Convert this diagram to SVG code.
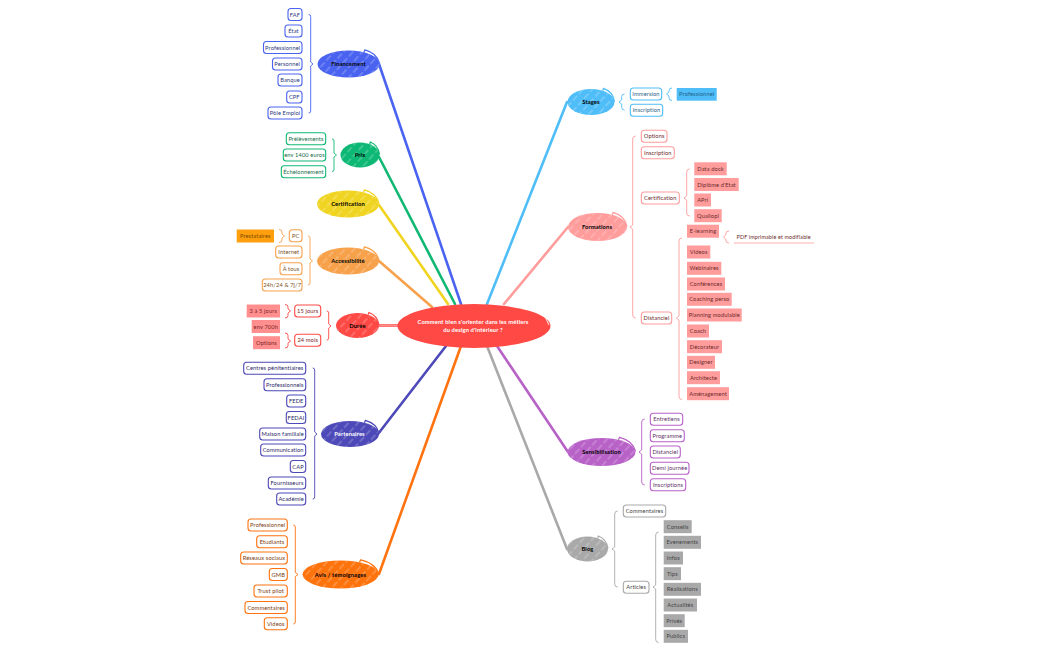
<svg xmlns="http://www.w3.org/2000/svg" width="1050" height="651" viewBox="0 0 1050 651">
<style>
text{font-family:"Lato","Liberation Sans",sans-serif;font-size:5.7px;letter-spacing:.12px;text-anchor:middle}
.fin{color:#4a63f0}.pri{color:#10b874}.cer{color:#f0d420}.acc{color:#f7a14c}.dur{color:#ff4a45}.par{color:#4d49b8}.avi{color:#ff7310}.sta{color:#4fbdf8}.frm{color:#ff9c9c}.sen{color:#b862c8}.blo{color:#a9a9a9}
.fin text{fill:#2b3a80}.pri text{fill:#0f6b47}.acc text{fill:#7a4f22}.dur text{fill:#7a2422}.par text{fill:#2b2966}.avi text{fill:#7a3c10}.sta text{fill:#1f6385}.frm text{fill:#6b2a2a}.sen text{fill:#5e2f66}.blo text{fill:#444}
.box{fill:#fff;stroke:currentColor;stroke-width:1.1}
.fil{fill:currentColor;filter:url(#rough)}
.el{fill:currentColor;filter:url(#rough)}
.ha{fill:url(#hatch)}
.fl{fill:none;stroke:currentColor;stroke-width:1.3}
.mn text{fill:#000;font-weight:700;font-size:5.8px}
.par.mn text{fill:#fff}
.cen text{font-weight:700;font-size:5.8px;fill:#fff}
.br{fill:none;stroke:currentColor;stroke-width:.9;stroke-linejoin:round}
.ln{fill:none;stroke:currentColor;stroke-width:2.6;stroke-linecap:round}
</style>
<defs>
<pattern id="hatch" patternUnits="userSpaceOnUse" width="7" height="9" patternTransform="rotate(42)">
<line x1="3" y1="0" x2="3" y2="6.5" stroke="#fff" stroke-width=".7" stroke-opacity=".55"/>
</pattern>
<filter id="rough" x="-5%" y="-10%" width="110%" height="120%">
<feTurbulence type="fractalNoise" baseFrequency=".7" numOctaves="1" seed="3"/>
<feDisplacementMap in="SourceGraphic" scale="1.3"/>
</filter>
<path id="flick" d="M.5 -.87 L.53 -1.04 Q.92 -.8 1 -.05" vector-effect="non-scaling-stroke"/>
</defs>
<g id="connectors">
<path class="ln fin" d="M379 64L461 304"/>
<path class="ln pri" d="M379 157L455 304"/>
<path class="ln cer" d="M379 205L448 304"/>
<path class="ln acc" d="M379 261L432 307"/>
<path class="ln dur" d="M379 325.5H398"/><path d="M379 325.5H398" stroke="#ffaaa6" stroke-width=".7" fill="none"/>
<path class="ln par" d="M378 434L446 346"/>
<path class="ln avi" d="M379 574L461 346"/>
<path class="ln sta" d="M567 102L487 304"/>
<path class="ln frm" d="M568 227L504 304"/>
<path class="ln sen" d="M568 452L497 346"/>
<path class="ln blo" d="M567 549L487 346"/>
<path class="br fin" d="M308.7 14.5Q310.7 14.5 310.7 16.5V62L313 64L310.7 66V111Q310.7 113 308.7 113"/>
<path class="br pri" d="M332 139Q334 139 334 141V153L336.5 155L334 157V169.5Q334 171.5 332 171.5"/>
<path class="br acc" d="M308 236Q310 236 310 238V259L312.5 261L310 263V283Q310 285 308 285"/>
<path class="br acc" d="M279 229.5Q282 229.5 282 232V234L284.5 236L282 238V240Q282 242.5 279 242.5"/>
<path class="br dur" d="M326.7 311Q328.7 311 328.7 313V324L331 326L328.7 328V338Q328.7 340 326.7 340"/>
<path class="br dur" d="M285 304.5Q288 304.5 288 307V309L290.5 311L288 313V315.5Q288 318 285 318"/>
<path class="br dur" d="M285 333Q288 333 288 335.5V339L290.5 341L288 343V345.5Q288 348 285 348"/>
<path class="br par" d="M312.7 368Q314.7 368 314.7 370V432L317 434L314.7 436V497Q314.7 499 312.7 499"/>
<path class="br avi" d="M293.3 525Q295.3 525 295.3 527V572.5L298 574.5L295.3 576.5V622Q295.3 624 293.3 624"/>
<path class="br sta" d="M624.5 94Q621.7 94 621.7 96.5V100L619 102L621.7 104V107.5Q621.7 110 624.5 110"/>
<path class="br sta" d="M672 88Q669 88 669 90.5V92L666.5 94L669 96V98Q669 100.5 672 100.5"/>
<path class="br frm" d="M635.7 136Q632.7 136 632.7 139V225L630 227L632.7 229V315Q632.7 318 635.7 318"/>
<path class="br frm" d="M689.7 169Q686.7 169 686.7 172V196L684 198L686.7 200V213Q686.7 216 689.7 216"/>
<path class="br frm" d="M729 231Q725.7 231 725.7 234V235L723.5 237L725.7 239V240Q725.7 243 729 243"/>
<path class="br frm" d="M682 238Q679 238 679 241V316L676.5 318L679 320V396.5Q679 399.5 682 399.5"/>
<path class="br sen" d="M644.7 419Q641.7 419 641.7 422V450L639 452L641.7 454V482Q641.7 485 644.7 485"/>
<path class="br blo" d="M617.7 511Q614.7 511 614.7 514V547L612 549L614.7 551V584Q614.7 587 617.7 587"/>
<path class="br blo" d="M658.7 532Q655.7 532 655.7 535V585L653 587L655.7 589V639.5Q655.7 642.5 658.7 642.5"/>
<path d="M734 243H814" stroke="#ffb0b0" stroke-width="1" fill="none"/>
</g>
<g id="center" class="dur cen"><ellipse class="el" cx="474" cy="326" rx="76.5" ry="22"/><path d="M519 305.5L520 304Q545 310 549 325" fill="none" stroke="#fff" stroke-width=".9"/><text x="473" y="324.3">Comment bien s'orienter dans les métiers</text><text x="473" y="331.5">du design d'intérieur ?</text></g>
<g id="financement" class="fin mn"><ellipse class="el" cx="348.5" cy="64" rx="31" ry="13.5"/><ellipse class="ha" cx="348.5" cy="64" rx="31" ry="13.5"/><use href="#flick" class="fl" transform="translate(348.5 64) scale(31 13.5)"/><text x="348.5" y="66">Financement</text></g>
<g id="prix" class="pri mn"><ellipse class="el" cx="360" cy="155" rx="19.5" ry="12.5"/><ellipse class="ha" cx="360" cy="155" rx="19.5" ry="12.5"/><use href="#flick" class="fl" transform="translate(360 155) scale(19.5 12.5)"/><text x="360" y="157">Prix</text></g>
<g id="certification" class="cer mn"><ellipse class="el" cx="348" cy="204" rx="31" ry="13.5"/><ellipse class="ha" cx="348" cy="204" rx="31" ry="13.5"/><use href="#flick" class="fl" transform="translate(348 204) scale(31 13.5)"/><text x="348" y="206">Certification</text></g>
<g id="accessibilite" class="acc mn"><ellipse class="el" cx="348" cy="261" rx="31" ry="13.5"/><ellipse class="ha" cx="348" cy="261" rx="31" ry="13.5"/><use href="#flick" class="fl" transform="translate(348 261) scale(31 13.5)"/><text x="348" y="263">Accessibilité</text></g>
<g id="duree" class="dur mn"><ellipse class="el" cx="357.5" cy="325.5" rx="21.5" ry="12.5"/><ellipse class="ha" cx="357.5" cy="325.5" rx="21.5" ry="12.5"/><use href="#flick" class="fl" transform="translate(357.5 325.5) scale(21.5 12.5)"/><text x="357.5" y="327.5">Durée</text></g>
<g id="partenaires" class="par mn"><ellipse class="el" cx="350" cy="434" rx="29" ry="13"/><ellipse class="ha" cx="350" cy="434" rx="29" ry="13"/><use href="#flick" class="fl" transform="translate(350 434) scale(29 13)"/><text x="349.5" y="436">Partenaires</text></g>
<g id="avis" class="avi mn"><ellipse class="el" cx="340.5" cy="574.5" rx="38" ry="14"/><ellipse class="ha" cx="340.5" cy="574.5" rx="38" ry="14"/><use href="#flick" class="fl" transform="translate(340.5 574.5) scale(38 14)"/><text x="340.5" y="576.5">Avis / témoignages</text></g>
<g id="stages" class="sta mn"><ellipse class="el" cx="591" cy="102" rx="23.5" ry="13"/><ellipse class="ha" cx="591" cy="102" rx="23.5" ry="13"/><use href="#flick" class="fl" transform="translate(591 102) scale(23.5 13)"/><text x="591" y="104">Stages</text></g>
<g id="formations" class="frm mn"><ellipse class="el" cx="597.5" cy="227" rx="29.5" ry="14"/><ellipse class="ha" cx="597.5" cy="227" rx="29.5" ry="14"/><use href="#flick" class="fl" transform="translate(597.5 227) scale(29.5 14)"/><text x="597" y="229">Formations</text></g>
<g id="sensibilisation" class="sen mn"><ellipse class="el" cx="601.5" cy="452" rx="34" ry="14"/><ellipse class="ha" cx="601.5" cy="452" rx="34" ry="14"/><use href="#flick" class="fl" transform="translate(601.5 452) scale(34 14)"/><text x="601.5" y="454">Sensibilisation</text></g>
<g id="blog" class="blo mn"><ellipse class="el" cx="587.5" cy="549" rx="20.5" ry="12.5"/><ellipse class="ha" cx="587.5" cy="549" rx="20.5" ry="12.5"/><use href="#flick" class="fl" transform="translate(587.5 549) scale(20.5 12.5)"/><text x="587.5" y="551">Blog</text></g>

<g id="f1" class="fin"><rect class="box" x="288" y="8.5" width="14" height="12" rx="3"/><text x="295" y="16.5">FAF</text></g>
<g id="f2" class="fin"><rect class="box" x="285" y="25" width="17" height="12" rx="3"/><text x="293.5" y="33">État</text></g>
<g id="f3" class="fin"><rect class="box" x="263.5" y="41.5" width="38.5" height="12" rx="3"/><text x="282.7" y="49.5">Professionnel</text></g>
<g id="f4" class="fin"><rect class="box" x="272.5" y="58" width="29.5" height="12" rx="3"/><text x="287.2" y="66">Personnel</text></g>
<g id="f5" class="fin"><rect class="box" x="278" y="74" width="24" height="12" rx="3"/><text x="290" y="82">Banque</text></g>
<g id="f6" class="fin"><rect class="box" x="286.7" y="91" width="15.3" height="12" rx="3"/><text x="294.3" y="99">CPF</text></g>
<g id="f7" class="fin"><rect class="box" x="268" y="107" width="34" height="12" rx="3"/><text x="285" y="115">Pôle Emploi</text></g>

<g id="p1" class="pri"><rect class="box" x="286.3" y="132.7" width="39.4" height="12" rx="3"/><text x="306" y="140.7">Prélèvements</text></g>
<g id="p2" class="pri"><rect class="box" x="283.3" y="149" width="42.4" height="12" rx="3"/><text x="304.5" y="157">env 1400 euros</text></g>
<g id="p3" class="pri"><rect class="box" x="281.3" y="165.7" width="44.4" height="12" rx="3"/><text x="303.5" y="173.7">Échelonnement</text></g>

<g id="a1" class="acc"><rect class="box" x="289.3" y="229.7" width="12.7" height="12" rx="3"/><text x="295.7" y="237.7">PC</text></g>
<g id="a2" class="acc"><rect class="box" x="275.7" y="246" width="26.3" height="12" rx="3"/><text x="288.8" y="254">Internet</text></g>
<g id="a3" class="acc"><rect class="box" x="280" y="262.7" width="22" height="12" rx="3"/><text x="291" y="270.7">À tous</text></g>
<g id="a4" class="acc"><rect class="box" x="262.3" y="279" width="39.7" height="12" rx="3"/><text x="282.2" y="287">24h/24 &amp; 7j/7</text></g>
<g id="a5" style="color:#ff9f0f"><rect class="fil" x="236.7" y="229.5" width="37.3" height="13"/><text x="255.3" y="238" fill="#7a4a00">Prestataires</text></g>

<g id="d1" class="dur"><rect class="box" x="294.7" y="305" width="26" height="12" rx="3"/><text x="307.7" y="313">15 jours</text></g>
<g id="d2" class="dur"><rect class="box" x="294.7" y="334.3" width="26" height="12" rx="3"/><text x="307.7" y="342.3">24 mois</text></g>
<g id="d3" class="dur" style="color:#ff8f8f"><rect class="fil" x="246.7" y="304.5" width="33.3" height="13"/><text x="263.3" y="313">3 à 5 jours</text></g>
<g id="d4" class="dur" style="color:#ff8f8f"><rect class="fil" x="251.7" y="320" width="28.3" height="13"/><text x="265.8" y="328.5">env 700h</text></g>
<g id="d5" class="dur" style="color:#ff8f8f"><rect class="fil" x="253" y="336.2" width="27" height="13"/><text x="266.5" y="344.7">Options</text></g>

<g id="t1" class="par"><rect class="box" x="243.7" y="362.3" width="62" height="12" rx="3"/><text x="274.7" y="370.3">Centres pénitentiaires</text></g>
<g id="t2" class="par"><rect class="box" x="264" y="378.7" width="41.7" height="12" rx="3"/><text x="284.8" y="386.7">Professionnels</text></g>
<g id="t3" class="par"><rect class="box" x="286.7" y="395" width="19" height="12" rx="3"/><text x="296.2" y="403">FEDE</text></g>
<g id="t4" class="par"><rect class="box" x="286.3" y="411.5" width="19.4" height="12" rx="3"/><text x="296" y="419.5">FEDAI</text></g>
<g id="t5" class="par"><rect class="box" x="259.7" y="428" width="46" height="12" rx="3"/><text x="282.7" y="436">Maison familiale</text></g>
<g id="t6" class="par"><rect class="box" x="260.7" y="444" width="45" height="12" rx="3"/><text x="283.2" y="452">Communication</text></g>
<g id="t7" class="par"><rect class="box" x="290.3" y="460.5" width="15.4" height="12" rx="3"/><text x="298" y="468.5">CAP</text></g>
<g id="t8" class="par"><rect class="box" x="268.3" y="477" width="37.4" height="12" rx="3"/><text x="287" y="485">Fournisseurs</text></g>
<g id="t9" class="par"><rect class="box" x="276.7" y="493" width="29" height="12" rx="3"/><text x="291.2" y="501">Académie</text></g>

<g id="v1" class="avi"><rect class="box" x="248" y="519" width="39.3" height="12" rx="3"/><text x="267.7" y="527">Professionnel</text></g>
<g id="v2" class="avi"><rect class="box" x="256.7" y="535.7" width="30.6" height="12" rx="3"/><text x="272" y="543.7">Etudiants</text></g>
<g id="v3" class="avi"><rect class="box" x="240.7" y="552" width="46.6" height="12" rx="3"/><text x="264" y="560">Réseaux sociaux</text></g>
<g id="v4" class="avi"><rect class="box" x="269.3" y="568.5" width="18" height="12" rx="3"/><text x="278.3" y="576.5">GMB</text></g>
<g id="v5" class="avi"><rect class="box" x="254" y="585" width="33.3" height="12" rx="3"/><text x="270.7" y="593">Trust pilot</text></g>
<g id="v6" class="avi"><rect class="box" x="245" y="601.5" width="42.3" height="12" rx="3"/><text x="266.2" y="609.5">Commentaires</text></g>
<g id="v7" class="avi"><rect class="box" x="264.3" y="617.7" width="23" height="12" rx="3"/><text x="275.8" y="625.7">Videos</text></g>

<g id="s1" class="sta"><rect class="box" x="630.3" y="88" width="31.4" height="12" rx="3"/><text x="646" y="96">Immersion</text></g>
<g id="s2" class="sta"><rect class="box" x="630.3" y="104.3" width="32.4" height="12" rx="3"/><text x="646.5" y="112.3">Inscription</text></g>
<g id="s3" class="sta"><rect class="fil" x="676.7" y="88" width="40" height="12.7"/><text x="696.7" y="96.3">Professionnel</text></g>

<g id="o1" class="frm"><rect class="box" x="641.3" y="130.3" width="25.7" height="12" rx="3"/><text x="654.2" y="138.3">Options</text></g>
<g id="o2" class="frm"><rect class="box" x="641.3" y="146.7" width="33" height="12" rx="3"/><text x="657.8" y="154.7">Inscription</text></g>
<g id="o3" class="frm"><rect class="box" x="641.3" y="192" width="38" height="12" rx="3"/><text x="660.3" y="200">Certification</text></g>
<g id="o4" class="frm"><rect class="box" x="641.3" y="312" width="30.4" height="12" rx="3"/><text x="656.5" y="320">Distanciel</text></g>
<g id="c1" class="frm"><rect class="fil" x="694.3" y="162.3" width="32.4" height="13"/><text x="710.5" y="170.8">Data dock</text></g>
<g id="c2" class="frm"><rect class="fil" x="694.3" y="178" width="44.4" height="13"/><text x="716.5" y="186.5">Diplôme d'Etat</text></g>
<g id="c3" class="frm"><rect class="fil" x="694.3" y="193.5" width="16.7" height="13"/><text x="702.7" y="202">APri</text></g>
<g id="c4" class="frm"><rect class="fil" x="694.3" y="209.2" width="27.4" height="13"/><text x="708" y="217.7">Qualiopi</text></g>
<g id="e1" class="frm"><rect class="fil" x="687" y="224.7" width="32" height="13"/><text x="703" y="233.2">E-learning</text></g>
<g id="e2" class="frm"><text x="773.6" y="239" style="font-size:5.45px">PDF imprimable et modifiable</text></g>
<g id="g1" class="frm"><rect class="fil" x="687" y="245.5" width="23.3" height="13"/><text x="698.6" y="254">Videos</text></g>
<g id="g2" class="frm"><rect class="fil" x="687" y="261.8" width="34.3" height="13"/><text x="704.1" y="270.3">Webinaires</text></g>
<g id="g3" class="frm"><rect class="fil" x="687" y="277.5" width="38" height="13"/><text x="706" y="286">Conférences</text></g>
<g id="g4" class="frm"><rect class="fil" x="687" y="292.8" width="44.7" height="13"/><text x="709.3" y="301.3">Coaching perso</text></g>
<g id="g5" class="frm"><rect class="fil" x="687" y="308.5" width="54.7" height="13"/><text x="714.3" y="317">Planning modulable</text></g>
<g id="g6" class="frm"><rect class="fil" x="687" y="324.5" width="22" height="13"/><text x="698" y="333">Coach</text></g>
<g id="g7" class="frm"><rect class="fil" x="687" y="340.2" width="35" height="13"/><text x="704.5" y="348.7">Décorateur</text></g>
<g id="g8" class="frm"><rect class="fil" x="687" y="355.8" width="28" height="13"/><text x="701" y="364.3">Designer</text></g>
<g id="g9" class="frm"><rect class="fil" x="687" y="371.2" width="33" height="13"/><text x="703.5" y="379.7">Architecte</text></g>
<g id="g10" class="frm"><rect class="fil" x="687" y="387.2" width="42" height="13"/><text x="708" y="395.7">Aménagement</text></g>

<g id="n1" class="sen"><rect class="box" x="650.3" y="413.3" width="32.4" height="12" rx="3"/><text x="666.5" y="421.3">Entretiens</text></g>
<g id="n2" class="sen"><rect class="box" x="650.3" y="429.7" width="34" height="12" rx="3"/><text x="667.3" y="437.7">Programme</text></g>
<g id="n3" class="sen"><rect class="box" x="650.3" y="446" width="30" height="12" rx="3"/><text x="665.3" y="454">Distanciel</text></g>
<g id="n4" class="sen"><rect class="box" x="650.3" y="462.3" width="38.7" height="12" rx="3"/><text x="669.7" y="470.3">Demi journée</text></g>
<g id="n5" class="sen"><rect class="box" x="650.3" y="478.7" width="35.4" height="12" rx="3"/><text x="668" y="486.7">Inscriptions</text></g>

<g id="b1" class="blo"><rect class="box" x="623.3" y="505" width="42.4" height="12" rx="3"/><text x="644.5" y="513">Commentaires</text></g>
<g id="b2" class="blo"><rect class="box" x="623.3" y="581.3" width="25.7" height="12" rx="3"/><text x="636.2" y="589.3">Articles</text></g>
<g id="r1" class="blo"><rect class="fil" x="663.7" y="520.2" width="28" height="13"/><text x="677.7" y="528.7">Conseils</text></g>
<g id="r2" class="blo"><rect class="fil" x="663.7" y="535.8" width="37.3" height="13"/><text x="682.3" y="544.3">Evenements</text></g>
<g id="r3" class="blo"><rect class="fil" x="663.7" y="551.5" width="19.3" height="13"/><text x="673.3" y="560">Infos</text></g>
<g id="r4" class="blo"><rect class="fil" x="663.7" y="567.2" width="17.3" height="13"/><text x="672.3" y="575.7">Tips</text></g>
<g id="r5" class="blo"><rect class="fil" x="663.7" y="582.8" width="37.3" height="13"/><text x="682.3" y="591.3">Réalisations</text></g>
<g id="r6" class="blo"><rect class="fil" x="663.7" y="598.5" width="33.3" height="13"/><text x="680.3" y="607">Actualités</text></g>
<g id="r7" class="blo"><rect class="fil" x="663.7" y="614.2" width="21" height="13"/><text x="674.2" y="622.7">Privés</text></g>
<g id="r8" class="blo"><rect class="fil" x="663.7" y="629.8" width="24.3" height="13"/><text x="675.8" y="638.3">Publics</text></g>
</svg>
